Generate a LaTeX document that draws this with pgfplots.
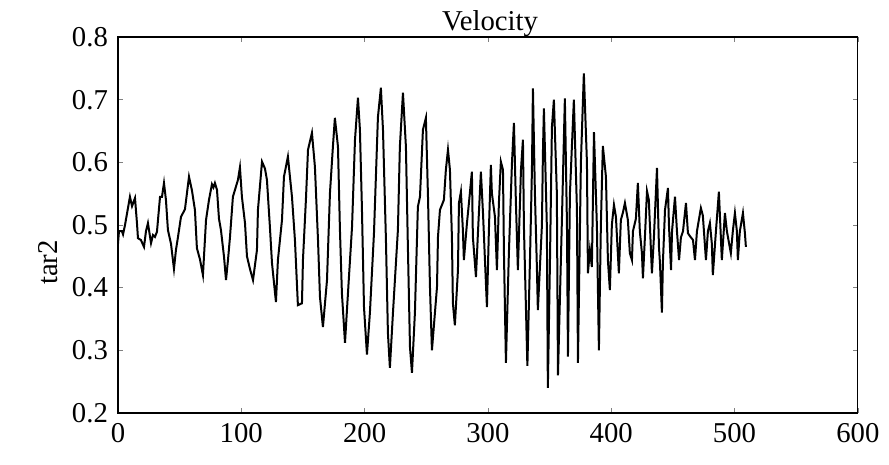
\documentclass[border=0pt]{standalone}
\usepackage{fontspec}
\setmainfont{Liberation Serif}
\usepackage{pgfplots}
\pgfplotsset{compat=1.18}

\begin{document}
\fontsize{11.5}{13}\selectfont
\begin{tikzpicture}
\begin{axis}[
    scale only axis,
    width=296pt, height=150.4pt,
    xmin=0, xmax=600,
    ymin=0.2, ymax=0.8,
    xtick={0,100,...,600},
    ytick={0.2,0.3,...,0.8},
    tick align=inside,
    tick pos=both,
    major tick length=2pt,
    axis line style={line width=0.5pt},
    /pgf/number format/assume math mode=true,
    yticklabel style={/pgf/number format/fixed,/pgf/number format/precision=1,/pgf/number format/fixed zerofill},
    xticklabel style={/pgf/number format/fixed},
    scaled ticks=false,
    every axis title shift=0pt,
    title={Velocity},
    title style={at={(0.503,1)},anchor=base,yshift=2.8pt,inner sep=0pt},
    ylabel={tar2},
    ylabel style={at={(rel axis cs:-0.095,0.40)},anchor=center},
]
\addplot[black, line width=0.8pt] coordinates {
(0,0.47)(0.8,0.49)(3.2,0.49)(4.1,0.485)(5.7,0.50)(9.7,0.545)(11.4,0.53)(13.8,0.543)(15.4,0.503)(16.2,0.479)
(18.6,0.476)(21.1,0.465)(22.7,0.49)(24.3,0.503)(26.8,0.471)(28.4,0.484)(30,0.481)(31.6,0.489)(34.1,0.545)(35.7,0.545)
(37.3,0.567)(38.9,0.54)(40.5,0.492)(43,0.47)(45.4,0.43)(47,0.46)(48.6,0.48)(51.1,0.513)(54.3,0.525)(57.6,0.577)
(60,0.555)(62.4,0.524)(64,0.463)(66.5,0.445)(68.9,0.42)(71.4,0.508)(73.8,0.54)(76.2,0.565)(77.4,0.56)(78.6,0.567)
(80.3,0.556)(81.9,0.51)(83.5,0.492)(86,0.449)(87.6,0.412)(89.2,0.444)(90.8,0.48)(93.2,0.545)(97.3,0.572)(98.9,0.592)
(100.5,0.545)(103,0.503)(104.6,0.45)(107,0.43)(109.5,0.412)(112.7,0.46)(113.5,0.524)(116.8,0.601)(119.2,0.59)(120.8,0.572)
(123.2,0.497)(124.9,0.439)(128.1,0.377)(129.7,0.444)(133,0.508)(134.6,0.577)(137.8,0.609)(141.1,0.545)(143.5,0.476)(145.9,0.372)
(149.2,0.375)(150,0.444)(152.4,0.54)(154.1,0.62)(157.3,0.647)(159.7,0.593)(162.2,0.476)(163.8,0.385)(166.2,0.337)(169.5,0.412)
(171.9,0.551)(174.3,0.625)(175.9,0.671)(178.4,0.625)(180,0.492)(181.6,0.391)(184.1,0.312)(186.5,0.391)(189.8,0.497)(192.2,0.636)
(194.6,0.703)(196.2,0.652)(197.8,0.529)(199.5,0.369)(201.9,0.293)(204.3,0.36)(207.6,0.487)(210.8,0.672)(213.2,0.719)(214.9,0.652)
(217.3,0.476)(218.9,0.328)(220.5,0.272)(223,0.36)(227,0.492)(228.6,0.625)(231.1,0.711)(233.5,0.625)(235.1,0.465)(236.8,0.305)
(238.4,0.264)(240.8,0.36)(243.2,0.529)(244.9,0.545)(247.3,0.652)(249.7,0.671)(251.4,0.545)(253,0.401)(254.6,0.30)(258.7,0.401)
(259.5,0.481)(261.1,0.524)(264.3,0.54)(265.9,0.588)(267.6,0.62)(269.2,0.588)(270.8,0.481)(271.6,0.375)(273.2,0.34)(275.7,0.428)
(276.5,0.535)(278.1,0.553)(279.7,0.492)(280.5,0.444)(283,0.503)(284.6,0.535)(287,0.585)(287.8,0.481)(290.3,0.417)(291.9,0.487)
(294.3,0.585)(296,0.519)(297.6,0.444)(299.2,0.369)(300.8,0.492)(302.4,0.596)(303.2,0.551)(305.7,0.513)(307.3,0.428)(308.9,0.535)
(310.5,0.601)(312.2,0.588)(313,0.455)(314.6,0.28)(317,0.455)(319.5,0.599)(321.1,0.663)(322.7,0.535)(324.3,0.428)(326.8,0.588)
(328.4,0.636)(329.2,0.497)(332,0.275)(334.1,0.444)(335.7,0.588)(336.5,0.718)(338.1,0.551)(339.7,0.433)(340.5,0.364)(343.8,0.50)
(344.6,0.615)(345.4,0.686)(347.8,0.497)(348.6,0.24)(350.3,0.44)(351.9,0.656)(353.5,0.70)(355.9,0.551)(356.8,0.26)(360,0.508)
(362.4,0.702)(364.1,0.50)(364.9,0.29)(366.5,0.55)(369.7,0.70)(372.2,0.524)(373,0.28)(375.4,0.60)(377.8,0.742)(380.3,0.60)
(381.1,0.423)(382.7,0.46)(384.3,0.433)(386,0.648)(388.4,0.497)(390,0.30)(391.6,0.50)(393.2,0.626)(395.7,0.577)(397.3,0.444)
(398.9,0.396)(400.5,0.50)(402.2,0.532)(403.8,0.513)(406.2,0.423)(407.8,0.508)(409.5,0.52)(411.1,0.535)(413.5,0.508)(415.1,0.455)
(416.8,0.444)(417.6,0.49)(420,0.51)(421.6,0.567)(423.2,0.49)(424.9,0.455)(425.7,0.415)(427.3,0.48)(429,0.554)(430.5,0.54)
(432.2,0.46)(433,0.423)(434.6,0.48)(437.1,0.591)(438.7,0.465)(439.5,0.44)(441.1,0.36)(441.9,0.44)(443.6,0.524)(446,0.559)
(446.8,0.50)(448.5,0.428)(449.3,0.49)(451.7,0.545)(453.3,0.49)(455,0.444)(456.5,0.48)(458.2,0.49)(460.6,0.535)(462.2,0.487)
(463.9,0.482)(466.3,0.476)(467.9,0.444)(469.5,0.49)(472.7,0.527)(474.3,0.515)(476.8,0.444)(478.4,0.49)(480,0.503)(481.6,0.47)
(482.4,0.42)(484.9,0.49)(487.3,0.553)(489.7,0.444)(492.2,0.519)(493.8,0.49)(497,0.455)(498.6,0.49)(500.3,0.519)(501.9,0.49)
(502.7,0.444)(504.3,0.49)(506.8,0.519)(508.4,0.487)(509.2,0.465)
};
\end{axis}
\path (-47.2pt,-20.8pt) rectangle (308.4pt,165.2pt);
\end{tikzpicture}
\end{document}
